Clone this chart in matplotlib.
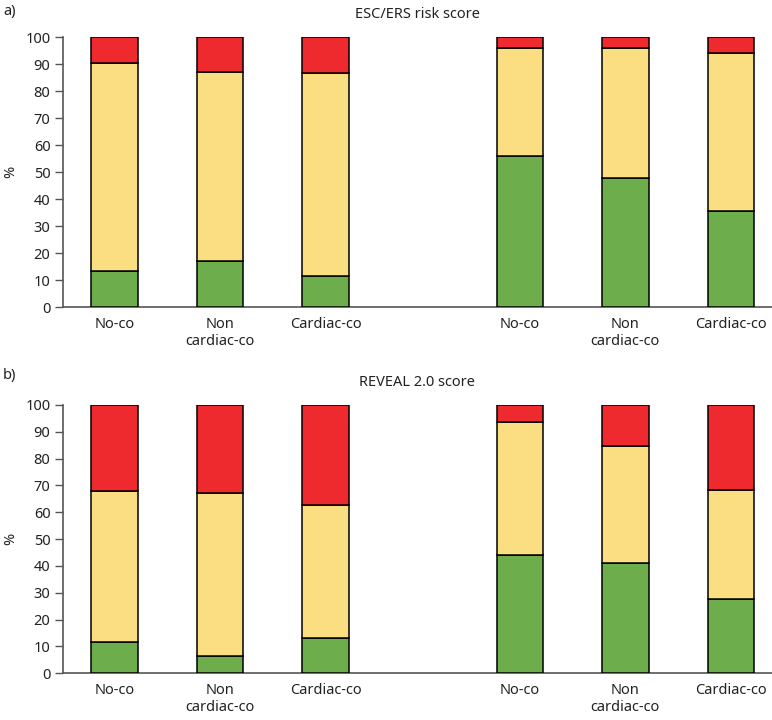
import numpy as np
import matplotlib.pyplot as plt

plt.rcParams['font.family'] = ['Noto Sans', 'DejaVu Sans']

groups = ["No-co", "Non\ncardiac-co", "Cardiac-co", "No-co", "Non\ncardiac-co", "Cardiac-co"]
positions = [0, 1, 2, 3.84, 4.84, 5.84]

# ESC/ERS risk score: cumulative boundaries (low, low+intermediate)
esc_low = [13.5, 17.0, 11.4, 55.8, 47.8, 35.4]
esc_low_mid = [90.2, 87.0, 86.8, 95.9, 95.8, 93.9]

# REVEAL 2.0 score
rev_low = [11.6, 6.3, 13.2, 44.1, 41.2, 27.6]
rev_low_mid = [68.1, 67.3, 62.7, 93.8, 84.7, 68.3]

green = "#6ead4c"
yellow = "#fcde82"
red = "#ee2a2e"

fig = plt.figure(figsize=(7.72, 7.2), dpi=100)
ax_a = fig.add_axes([0.0816, 0.5736, 0.9184, 0.375])
ax_b = fig.add_axes([0.0816, 0.0649, 0.9184, 0.3726])


def draw(ax, low, low_mid, title):
    low = np.array(low)
    low_mid = np.array(low_mid)
    w = 0.44
    kw = dict(width=w, edgecolor="black", linewidth=1.1, zorder=3)
    ax.bar(positions, low, color=green, **kw)
    ax.bar(positions, low_mid - low, bottom=low, color=yellow, **kw)
    ax.bar(positions, 100 - low_mid, bottom=low_mid, color=red, **kw)
    ax.set_xlim(-0.49, 6.23)
    ax.set_ylim(0, 100)
    ax.set_yticks(range(0, 101, 10))
    ax.set_xticks(positions)
    ax.set_xticklabels(groups, fontsize=10.5, color="#222222")
    ax.tick_params(axis="x", length=0, pad=7)
    ax.tick_params(axis="y", length=6, width=1, color="#555555",
                   labelsize=10.5, labelcolor="#222222", pad=3)
    for s in ["top", "right"]:
        ax.spines[s].set_visible(False)
    for s in ["left", "bottom"]:
        ax.spines[s].set_color("#555555")
        ax.spines[s].set_linewidth(1.2)
    ax.set_ylabel("%", fontsize=10.5, color="#222222", va="center")
    ax.yaxis.set_label_coords(-0.074, 0.5)
    ax.set_title(title, fontsize=10.5, color="#222222", pad=14)


draw(ax_a, esc_low, esc_low_mid, "ESC/ERS risk score")
draw(ax_b, rev_low, rev_low_mid, "REVEAL 2.0 score")

fig.text(3 / 772, 1 - 12 / 720, "a)", fontsize=10.5, color="#222222", va="center", ha="left")
fig.text(3 / 772, 1 - 376 / 720, "b)", fontsize=10.5, color="#222222", va="center", ha="left")

fig.savefig("out.png", dpi=100)
